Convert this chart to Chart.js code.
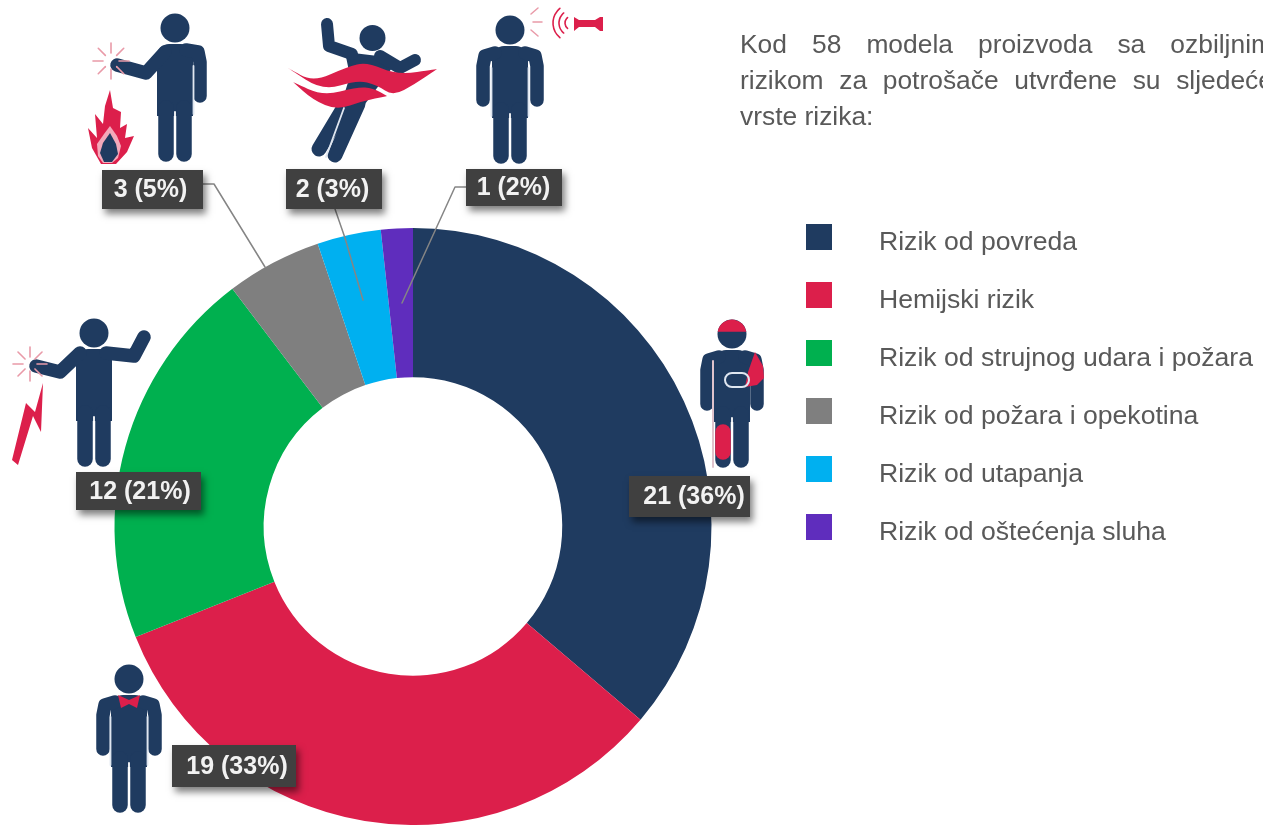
<!DOCTYPE html>
<html>
<head>
<meta charset="utf-8">
<title>Vrste rizika</title>
<script src="https://cdn.jsdelivr.net/npm/chart.js@4"></script>
<style>
    html, body { margin: 0; padding: 0; background: #fff; overflow: hidden; }
    body { width: 1263px; height: 825px; position: relative; font-family: "Liberation Sans", Arial, sans-serif; color: #595959; }
    #myChart { position: absolute; left: 0; top: 0; }
    #intro { position: absolute; left: 740px; top: 26px; width: 533px; font-size: 26.4px; line-height: 36px; text-align: justify; }
    #legend { position: absolute; left: 806px; top: 212px; margin: 0; padding: 0; list-style: none; }
    #legend li { height: 58px; line-height: 58px; font-size: 26.6px; white-space: nowrap; position: relative; padding-left: 73px; }
    #legend span { position: absolute; left: 0; top: 12px; width: 26px; height: 26px; }
</style>
</head>
<body>
<canvas id="myChart" width="1263" height="825"></canvas>
<div id="intro">Kod 58 modela proizvoda sa ozbiljnim rizikom za potrošače utvrđene su sljedeće vrste rizika:</div>
<ul id="legend"></ul>
<script>
const categories = ['Rizik od povreda', 'Hemijski rizik', 'Rizik od strujnog udara i požara', 'Rizik od požara i opekotina', 'Rizik od utapanja', 'Rizik od oštećenja sluha'];
const values = [21, 19, 12, 3, 2, 1];
const colors = ['#1f3b60', '#dc1f4b', '#00b04f', '#7f7f7f', '#00b0f0', '#5f2dbd'];

const navy = colors[0];
const red = colors[1];
const total = values.reduce(function (a, b) { return a + b; }, 0);

// legend
let legend = document.getElementById('legend');
categories.forEach(function (name, i) {
    let li = document.createElement('li');
    let box = document.createElement('span');
    box.style.background = colors[i];
    li.appendChild(box);
    li.appendChild(document.createTextNode(name));
    legend.appendChild(li);
});

function line(ctx, pts, width, color) {
    ctx.beginPath();
    ctx.moveTo(pts[0][0], pts[0][1]);
    for (let i = 1; i < pts.length; i++) ctx.lineTo(pts[i][0], pts[i][1]);
    ctx.lineWidth = width;
    ctx.strokeStyle = color;
    ctx.lineCap = 'round';
    ctx.lineJoin = 'round';
    ctx.stroke();
}

function poly(ctx, pts, color) {
    ctx.beginPath();
    ctx.moveTo(pts[0][0], pts[0][1]);
    for (let i = 1; i < pts.length; i++) ctx.lineTo(pts[i][0], pts[i][1]);
    ctx.closePath();
    ctx.fillStyle = color;
    ctx.fill();
}

// closed shape with the corners rounded off, a point given twice stays sharp
function blob(ctx, pts, color) {
    let n = pts.length;
    ctx.beginPath();
    ctx.moveTo((pts[n - 1][0] + pts[0][0]) / 2, (pts[n - 1][1] + pts[0][1]) / 2);
    for (let i = 0; i < n; i++) {
        let next = pts[(i + 1) % n];
        ctx.quadraticCurveTo(pts[i][0], pts[i][1], (pts[i][0] + next[0]) / 2, (pts[i][1] + next[1]) / 2);
    }
    ctx.closePath();
    ctx.fillStyle = color;
    ctx.fill();
}

function circle(ctx, x, y, r, color) {
    ctx.beginPath();
    ctx.arc(x, y, r, 0, Math.PI * 2);
    ctx.fillStyle = color;
    ctx.fill();
}

// head, torso and legs, arms are passed in because every figure holds them differently
function person(ctx, cx, top, arms, gaps) {
    circle(ctx, cx, top + 20, 14.5, navy);
    ctx.beginPath();
    ctx.roundRect(cx - 18, top + 36, 36, 72, [12, 12, 0, 0]);
    ctx.fillStyle = navy;
    ctx.fill();
    line(ctx, [[cx - 9, top + 100], [cx - 9, top + 146]], 15.5, navy);
    line(ctx, [[cx + 9, top + 100], [cx + 9, top + 146]], 15.5, navy);
    line(ctx, [[cx, top + 104], [cx, top + 153]], 1.8, '#fff');
    arms.forEach(function (arm) { line(ctx, arm, 13.5, navy); });
    (gaps || []).forEach(function (g) {
        line(ctx, [[cx + g, top + 58], [cx + g, top + 106]], 1.8, '#dfe6f0');
    });
}

function downArms(cx, top, w) {
    return [
        [[cx - w + 12, top + 43], [cx - w + 2, top + 46], [cx - w, top + 56], [cx - w, top + 90]],
        [[cx + w - 12, top + 43], [cx + w - 2, top + 46], [cx + w, top + 56], [cx + w, top + 90]]
    ];
}

function sparks(ctx, x, y, r1, r2, color) {
    for (let i = 0; i < 8; i++) {
        let a = i * Math.PI / 4;
        line(ctx, [[x + Math.cos(a) * r1, y + Math.sin(a) * r1], [x + Math.cos(a) * r2, y + Math.sin(a) * r2]], 1.6, color);
    }
}

function drawFlame(ctx) {
    poly(ctx, [[110, 90], [113, 108], [121, 112], [120, 128], [127, 124], [125, 138], [134, 136], [127, 152], [116, 164], [101, 164], [92, 148], [88, 128], [97, 138], [95, 114], [103, 124], [105, 106]], red);
    poly(ctx, [[110, 126], [117, 136], [121, 146], [118, 158], [112, 163], [103, 163], [98, 156], [97, 144], [104, 134]], '#f3a9ba');
    poly(ctx, [[110, 133], [116, 144], [118, 154], [112, 162], [104, 162], [100, 153], [103, 143]], navy);
}

function drawSwimmer(ctx) {
    circle(ctx, 372.5, 38, 13, navy);
    poly(ctx, [[345, 52], [378, 56], [392, 68], [362, 108], [340, 108], [350, 76]], navy);
    line(ctx, [[327, 24], [329, 46], [352, 54]], 12, navy);
    line(ctx, [[380, 56], [400, 68], [415, 60]], 12, navy);
    line(ctx, [[346, 104], [319, 149]], 15, navy);
    line(ctx, [[358, 104], [335, 155]], 15, navy);
    line(ctx, [[344, 108], [326, 157]], 1.8, '#dfe6f0');
    // two bands of water over the body
    blob(ctx, [[288, 68], [288, 68], [313, 82], [347, 67], [367, 62], [397, 75], [437, 69], [437, 69], [415, 84], [393, 96], [377, 85], [357, 80], [323, 91]], red);
    blob(ctx, [[293, 82], [293, 82], [323, 96], [357, 87], [373, 88], [387, 96], [387, 96], [363, 101], [337, 110], [313, 100]], red);
}

function drawHorn(ctx) {
    [7, 13, 19].forEach(function (r) {
        ctx.beginPath();
        ctx.arc(572, 23, r, Math.PI * 0.72, Math.PI * 1.28);
        ctx.lineWidth = 1.6;
        ctx.strokeStyle = red;
        ctx.stroke();
    });
    poly(ctx, [[574, 17], [579, 20], [595, 20], [600, 17], [603, 17], [603, 31], [600, 31], [595, 27], [579, 27], [574, 31]], red);
    line(ctx, [[531, 14], [538, 8]], 1.5, '#e99aa8');
    line(ctx, [[533, 22], [542, 22]], 1.5, '#e99aa8');
    line(ctx, [[531, 30], [538, 36]], 1.5, '#e99aa8');
}

function drawBolt(ctx) {
    poly(ctx, [[43, 383], [41, 432], [33, 416], [18, 465], [12, 460], [26, 403], [35, 412]], red);
}

function drawInjured(ctx) {
    let cx = 732;
    let top = 314;
    person(ctx, cx, top, downArms(cx, top, 25));
    // cap on the head
    ctx.beginPath();
    ctx.arc(cx, top + 20, 14.5, Math.PI * 1.05, Math.PI * 1.95);
    ctx.closePath();
    ctx.fillStyle = red;
    ctx.fill();
    // sling on the arm
    poly(ctx, [[755, 352], [763, 366], [764, 378], [757, 385], [745, 387], [748, 372]], red);
    ctx.beginPath();
    ctx.roundRect(725, 373, 24, 14, 7);
    ctx.lineWidth = 2;
    ctx.strokeStyle = '#dfe6f0';
    ctx.stroke();
    // crutch and cast on the leg
    line(ctx, [[713, 361], [713, 467]], 2, '#dfc3cc');
    line(ctx, [[cx - 9, top + 118], [cx - 9, top + 138]], 15.5, red);
}

// all the little people around the ring
const iconsPlugin = {
    id: 'icons',
    afterDatasetsDraw: function (chart) {
        let ctx = chart.ctx;
        ctx.save();

        person(ctx, 175, 8, [
            [[186, 50], [198, 52], [200, 62], [200, 96]],
            [[165, 52], [146, 73], [117, 65]]
        ], [18.5]);
        sparks(ctx, 111, 61, 8, 18, '#e99aa8');
        drawFlame(ctx);

        drawSwimmer(ctx);

        person(ctx, 510, 10, downArms(510, 10, 27), [-18.5, 18.5]);
        drawHorn(ctx);

        person(ctx, 94, 313, [
            [[80, 353], [60, 372], [36, 366]],
            [[106, 353], [134, 356], [144, 337]]
        ]);
        sparks(ctx, 30, 364, 7, 17, '#e99aa8');
        drawBolt(ctx);

        drawInjured(ctx);

        person(ctx, 129, 659, downArms(129, 659, 26), [-18.5, 18.5]);
        poly(ctx, [[118, 695], [129, 700], [140, 695], [137, 708], [129, 704], [121, 708]], red);

        ctx.restore();
    }
};

// leader lines and the dark boxes with the numbers
const calloutPlugin = {
    id: 'callouts',
    afterDraw: function (chart) {
        let ctx = chart.ctx;
        ctx.save();
        line(ctx, [[203, 184], [214, 184], [265, 267]], 1.5, '#858585');
        line(ctx, [[335, 209], [345, 238], [363, 300]], 1.5, '#858585');
        line(ctx, [[466, 187], [455, 187], [402, 303]], 1.5, '#858585');

        // x, y, width, height, centre of the text
        let boxes = [[629, 476, 121, 41, 694], [172, 745, 124, 42, 237], [76, 472, 125, 38, 140], [102, 170, 101, 39, 150.5], [286, 169, 96, 40, 332.5], [466, 169, 96, 37, 513.5]];
        boxes.forEach(function (b, i) {
            ctx.save();
            ctx.shadowColor = 'rgba(0, 0, 0, 0.5)';
            ctx.shadowBlur = 7;
            ctx.shadowOffsetX = 3;
            ctx.shadowOffsetY = 5;
            ctx.fillStyle = '#404040';
            ctx.fillRect(b[0], b[1], b[2], b[3]);
            ctx.restore();
            ctx.fillStyle = '#f2f2f2';
            ctx.font = 'bold 25px "Liberation Sans", Arial, sans-serif';
            ctx.textAlign = 'center';
            ctx.textBaseline = 'middle';
            let text = values[i] + ' (' + Math.round(values[i] / total * 100) + '%)';
            ctx.fillText(text, b[4], b[1] + b[3] / 2 + 1);
        });
        ctx.restore();
    }
};

let myChart = new Chart(document.getElementById('myChart'), {
    type: 'doughnut',
    data: {
        labels: categories,
        datasets: [{
            data: values,
            backgroundColor: colors,
            borderWidth: 0
        }]
    },
    options: {
        responsive: false,
        animation: false,
        cutout: '50%',
        layout: { padding: { left: 114, right: 551, top: 228, bottom: 0 } },
        plugins: {
            legend: { display: false },
            tooltip: { enabled: false }
        }
    },
    plugins: [iconsPlugin, calloutPlugin]
});
</script>
</body>
</html>
